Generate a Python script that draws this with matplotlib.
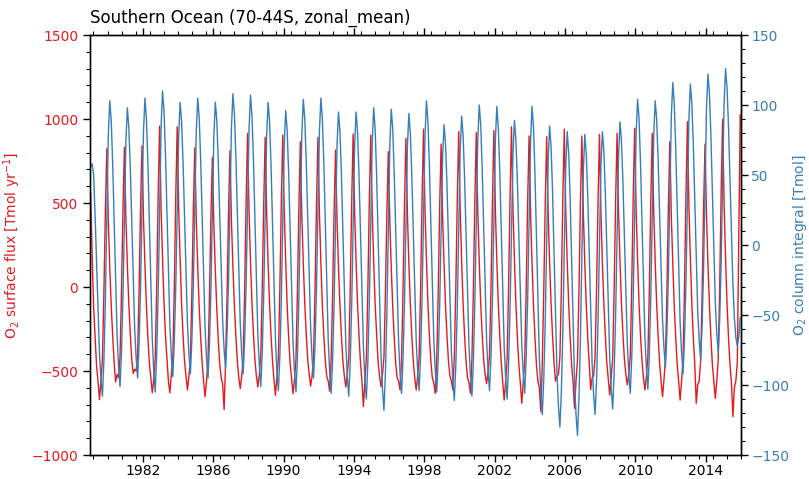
import numpy as np
import matplotlib
matplotlib.use("Agg")
import matplotlib.pyplot as plt
from matplotlib.ticker import MultipleLocator

RED = "#e41a1c"
BLUE = "#377eb8"

years = list(range(1979, 2016))

# monthly O2 surface flux [Tmol/yr], one row per year (Jan..Dec)
o2_flux = [
    [560, 180, -120, -300, -470, -560, -670, -560, -430, -40, 450, 825],
    [400, 120, -110, -290, -450, -565, -520, -540, -420, -30, 460, 831],
    [410, 130, -100, -280, -430, -515, -490, -500, -400, -20, 470, 841],
    [410, 130, -110, -300, -450, -540, -630, -550, -430, -10, 540, 958],
    [470, 170, -90, -290, -430, -560, -630, -520, -420, -20, 530, 954],
    [470, 160, -100, -290, -440, -530, -613, -530, -420, -40, 460, 829],
    [400, 120, -120, -300, -450, -560, -653, -560, -440, -60, 420, 772],
    [370, 100, -130, -310, -460, -540, -580, -730, -450, -50, 440, 811],
    [390, 120, -110, -290, -440, -540, -605, -530, -420, -20, 510, 915],
    [450, 150, -100, -280, -430, -530, -595, -520, -410, -10, 490, 891],
    [440, 140, -100, -290, -440, -550, -645, -540, -420, -20, 500, 905],
    [450, 150, -110, -300, -450, -540, -635, -550, -430, -30, 480, 865],
    [420, 140, -100, -280, -430, -520, -590, -530, -410, -20, 490, 891],
    [440, 140, -110, -290, -440, -530, -560, -620, -430, -40, 450, 815],
    [400, 120, -110, -290, -440, -530, -595, -520, -420, -20, 500, 911],
    [450, 150, -100, -290, -450, -560, -712, -560, -430, -30, 500, 905],
    [450, 150, -100, -280, -440, -530, -593, -520, -420, -40, 440, 806],
    [390, 110, -120, -300, -450, -540, -560, -613, -430, -30, 490, 885],
    [440, 140, -100, -290, -440, -540, -613, -530, -420, -10, 520, 940],
    [460, 160, -100, -290, -440, -540, -570, -633, -430, -40, 470, 851],
    [420, 130, -110, -290, -440, -530, -560, -613, -420, -20, 510, 925],
    [460, 150, -100, -290, -440, -540, -570, -633, -430, -20, 510, 919],
    [450, 150, -100, -280, -430, -520, -575, -510, -410, -10, 510, 931],
    [460, 150, -100, -290, -450, -560, -673, -560, -430, -10, 530, 954],
    [470, 160, -100, -300, -460, -570, -692, -570, -440, -30, 500, 899],
    [440, 140, -110, -300, -460, -560, -600, -742, -450, -30, 490, 895],
    [440, 140, -100, -290, -450, -560, -530, -520, -420, -10, 520, 939],
    [460, 150, -100, -300, -460, -570, -722, -560, -440, -30, 500, 899],
    [440, 140, -110, -300, -450, -610, -540, -530, -420, -20, 500, 909],
    [450, 140, -100, -290, -450, -550, -643, -540, -430, -20, 510, 915],
    [450, 150, -100, -280, -430, -520, -583, -520, -410, 0, 530, 945],
    [460, 160, -100, -290, -440, -540, -613, -530, -420, -20, 510, 915],
    [450, 150, -100, -290, -450, -560, -653, -550, -430, -30, 480, 865],
    [420, 140, -110, -300, -460, -560, -673, -560, -430, 0, 560, 984],
    [480, 170, -100, -300, -460, -692, -580, -560, -440, -40, 470, 851],
    [420, 130, -110, -300, -460, -560, -663, -560, -430, 0, 570, 998],
    [490, 170, -100, -300, -460, -570, -772, -600, -560, -450, 300, 1024],
]

# monthly O2 column integral [Tmol], one row per year (Jan..Dec)
o2_column = [
    [56, 58, 50, 21, -12, -45, -78, -96, -108, -83, -40, 19],
    [78, 103, 89, 58, 17, -23, -64, -87, -101, -77, -37, 18],
    [74, 98, 84, 56, 17, -22, -60, -81, -95, -71, -31, 25],
    [81, 105, 90, 59, 17, -25, -67, -90, -105, -79, -36, 24],
    [84, 110, 96, 65, 24, -16, -57, -80, -94, -70, -31, 24],
    [78, 102, 88, 59, 20, -18, -57, -78, -92, -68, -29, 26],
    [81, 105, 91, 61, 21, -19, -59, -81, -95, -71, -32, 23],
    [78, 102, 89, 60, 22, -16, -54, -75, -88, -64, -25, 30],
    [84, 108, 94, 64, 24, -16, -56, -78, -92, -68, -28, 27],
    [83, 107, 92, 61, 20, -22, -64, -86, -101, -77, -36, 21],
    [78, 102, 88, 57, 16, -26, -67, -90, -104, -80, -40, 16],
    [72, 96, 82, 52, 12, -29, -69, -91, -105, -80, -38, 20],
    [79, 104, 90, 60, 20, -19, -59, -81, -95, -71, -31, 25],
    [81, 105, 90, 59, 16, -26, -68, -91, -106, -82, -42, 15],
    [71, 95, 81, 50, 10, -31, -71, -94, -108, -84, -43, 14],
    [71, 95, 81, 50, 9, -32, -73, -96, -110, -85, -43, 15],
    [73, 98, 83, 50, 7, -36, -79, -103, -118, -92, -49, 11],
    [71, 97, 83, 52, 12, -29, -69, -92, -106, -82, -42, 14],
    [70, 94, 80, 50, 11, -29, -68, -90, -104, -79, -38, 20],
    [78, 103, 88, 57, 16, -26, -68, -90, -105, -82, -44, 10],
    [63, 86, 72, 43, 3, -36, -76, -97, -111, -87, -46, 11],
    [68, 92, 78, 48, 8, -32, -72, -94, -108, -83, -41, 17],
    [75, 100, 86, 55, 14, -27, -67, -90, -104, -80, -39, 18],
    [75, 99, 84, 53, 11, -31, -72, -95, -110, -86, -46, 9],
    [65, 89, 75, 46, 7, -32, -71, -92, -106, -81, -40, 17],
    [74, 99, 84, 51, 7, -37, -81, -106, -121, -96, -55, 3],
    [60, 85, 70, 38, -5, -48, -91, -115, -130, -105, -62, -3],
    [56, 81, 66, 33, -10, -54, -97, -121, -136, -110, -67, -7],
    [53, 79, 65, 35, -5, -45, -85, -107, -121, -97, -56, 0],
    [57, 81, 67, 37, -2, -42, -81, -103, -117, -92, -51, 6],
    [63, 88, 74, 45, 7, -32, -71, -92, -106, -81, -39, 20],
    [79, 104, 90, 58, 17, -24, -66, -88, -103, -78, -37, 21],
    [78, 103, 90, 61, 23, -15, -53, -74, -87, -63, -22, 35],
    [92, 116, 101, 70, 29, -13, -55, -77, -92, -67, -26, 32],
    [90, 115, 101, 72, 32, -7, -47, -68, -82, -58, -17, 40],
    [98, 122, 108, 78, 38, -1, -41, -63, -77, -53, -12, 45],
    [102, 126, 112, 85, 48, 10, -28, -52, -66, -72, -66, -52],
]

# decimal year at the middle of each month
t = (np.array(years)[:, None] + (np.arange(12)[None, :] + 0.5) / 12).ravel()
flux = np.array(o2_flux, dtype=float).ravel()
column = np.array(o2_column, dtype=float).ravel()

fig = plt.figure(figsize=(8.09, 4.79), dpi=100)
ax = fig.add_axes([0.1112, 0.0501, 0.8047, 0.8768])
ax2 = ax.twinx()

ax.plot(t, flux, color=RED, lw=1.0)
ax2.plot(t, column, color=BLUE, lw=1.0)

ax.set_xlim(1979, 2016)
ax.set_ylim(-1000, 1500)
ax2.set_ylim(-150, 150)

ax.set_xticks(range(1982, 2016, 4))
ax.xaxis.set_minor_locator(MultipleLocator(0.8))
ax.yaxis.set_major_locator(MultipleLocator(500))
ax.yaxis.set_minor_locator(MultipleLocator(100))
ax2.yaxis.set_major_locator(MultipleLocator(50))
ax2.yaxis.set_minor_locator(MultipleLocator(10))

for a in (ax, ax2):
    a.tick_params(which="major", length=5, width=1)
    a.tick_params(which="minor", length=3, width=0.8)
    for s in a.spines.values():
        s.set_linewidth(1.0)
ax.tick_params(axis="x", which="both", top=True, labelsize=10, pad=1.5)
ax.tick_params(axis="y", labelcolor=RED, labelsize=10)
ax2.tick_params(axis="y", labelcolor=BLUE, labelsize=10, pad=2.5)
ax.spines["left"].set_color("#555555")

ax.set_ylabel(r"O$_2$ surface flux [Tmol yr$^{-1}$]", color=RED, fontsize=10, labelpad=6)
ax2.set_ylabel(r"O$_2$ column integral [Tmol]", color=BLUE, fontsize=10, labelpad=1)
ax.set_title("Southern Ocean (70-44S, zonal_mean)", loc="left", fontsize=12, pad=9)

fig.savefig("out.png", dpi=100)
